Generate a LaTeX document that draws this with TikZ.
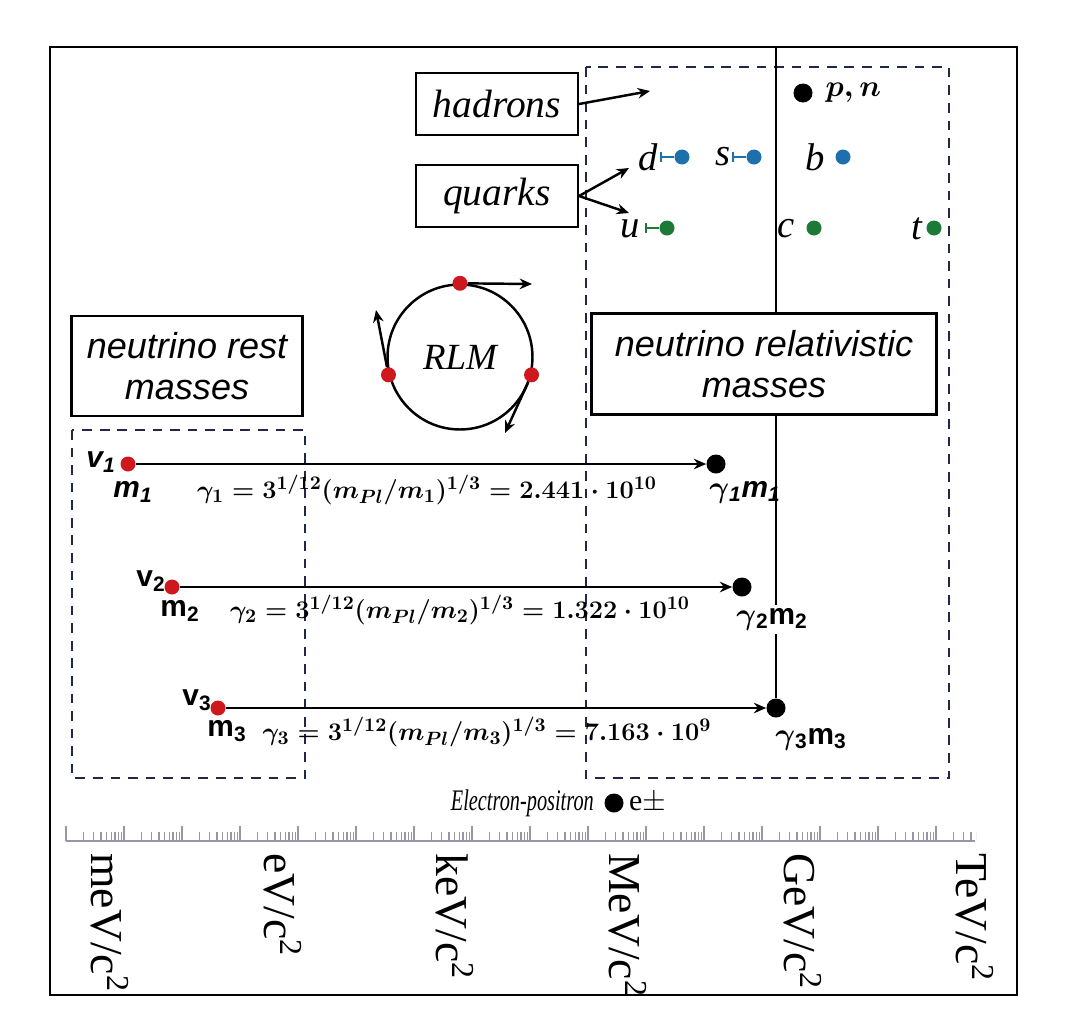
\documentclass[tikz,border=0pt]{standalone}
\usepackage{fontspec}
\setmainfont{Liberation Serif}
\setsansfont{Liberation Sans}
\usepackage{amsmath}
\usepackage{graphicx}
\usetikzlibrary{positioning,arrows.meta}

\definecolor{dotred}{RGB}{205,25,30}
\definecolor{qblue}{RGB}{30,112,172}
\definecolor{qgreen}{RGB}{28,122,55}
\definecolor{boxnavy}{RGB}{30,40,72}
\definecolor{rulegray}{RGB}{150,150,165}

\begin{document}
\begin{tikzpicture}[x=0.02cm,y=-0.02cm,
  lblbox/.style={draw,line width=1.2pt,fill=white,inner sep=0pt,align=center},
  dashbox/.style={draw=boxnavy,line width=1.1pt,dash pattern=on 5.5pt off 4.5pt},
  reddot/.style={circle,fill=dotred,inner sep=0pt,minimum size=0.3cm},
  blkdot/.style={circle,fill=black,inner sep=0pt,minimum size=0.38cm},
  qdot/.style={circle,fill=#1,inner sep=0pt,minimum size=0.3cm},
  qname/.style={font=\itshape\fontsize{22}{24}\selectfont,inner sep=0pt},
  qbar/.style={draw=#1,line width=1pt,-{Bar[width=6pt]}},
  flux/.style={-{Stealth[length=7pt,width=6pt]},line width=1.4pt},
  nulbl/.style={font=\sffamily\bfseries\boldmath\fontsize{17}{20}\selectfont,inner sep=0pt},
  formula/.style={font=\boldmath\fontsize{15.6}{18}\selectfont,inner sep=0pt},
  unitlbl/.style={rotate=-90,anchor=west,inner sep=0pt,font=\fontsize{26}{28}\selectfont}]

\useasboundingbox (0,0) rectangle (1068,1015);
\draw[line width=1.2pt] (50,47) rectangle (1017,995);

% regions
\draw[dashbox] (72,430) rectangle (305,778);
\draw[dashbox] (586,67) rectangle (949,778);

% neutrinos
\node[reddot] (nu1) at (128,464) {};
\node[reddot] (nu2) at (172,587) {};
\node[reddot] (nu3) at (218,708) {};
\node[blkdot] (g1) at (716,464) {};
\node[blkdot] (g2) at (742,587) {};
\node[blkdot] (g3) at (776,708) {};

% GeV line
\coordinate (gtop) at (776,47);
\draw[line width=1.3pt] (gtop) -- (g3);

\node[nulbl] (v1) at (101,462) {\itshape v\textsubscript{1}};
\node[nulbl] (m1) at (133,492) {\itshape m\textsubscript{1}};
\node[nulbl] (gm1) at (745,492) {\itshape $\gamma$\textsubscript{1}m\textsubscript{1}};
\node[nulbl] (v2) at (151,581) {v\textsubscript{2}};
\node[nulbl] (m2) at (180,611) {m\textsubscript{2}};
\node[nulbl,fill=white,inner sep=2pt] (gm2) at (772,619) {$\gamma$\textsubscript{2}m\textsubscript{2}};
\node[nulbl] (v3) at (197,700) {v\textsubscript{3}};
\node[nulbl] (m3) at (227,731) {m\textsubscript{3}};
\node[nulbl] (gm3) at (811,739) {$\gamma$\textsubscript{3}m\textsubscript{3}};

\node[formula] (f1) at (427,490) {$\gamma_1 = 3^{1/12}(m_{Pl}/m_1)^{1/3} = 2.441\cdot 10^{10}$};
\node[formula] (f2) at (460,610) {$\gamma_2 = 3^{1/12}(m_{Pl}/m_2)^{1/3} = 1.322\cdot 10^{10}$};
\node[formula] (f3) at (487,732) {$\gamma_3 = 3^{1/12}(m_{Pl}/m_3)^{1/3} = 7.163\cdot 10^{9}$};

\draw[flux] (nu1) -- (g1);
\draw[flux] (nu2) -- (g2);
\draw[flux] (nu3) -- (g3);

% boxes
\node[lblbox,minimum width=4.62cm,minimum height=2cm,
  font=\sffamily\itshape\fontsize{20.5}{23.5}\selectfont] (rest) at (187,366) {neutrino rest\\masses};
\node[lblbox,minimum width=6.9cm,minimum height=2.02cm,
  font=\sffamily\itshape\fontsize{20.5}{23.5}\selectfont] (rel) at (764,364) {neutrino relativistic\\masses};
\node[lblbox,minimum width=3.24cm,minimum height=1.24cm,
  font=\itshape\fontsize{22.5}{24}\selectfont] (had) at (497,104) {hadrons};
\node[lblbox,minimum width=3.24cm,minimum height=1.24cm,
  font=\itshape\fontsize{22.5}{24}\selectfont] (qrk) at (497,196) {quarks};

\coordinate (hadtip) at (650,91);
\coordinate (dtip) at (629,168);
\coordinate (utip) at (629,213);
\draw[flux] (had.east) -- (hadtip);
\draw[flux] (qrk.east) -- (dtip);
\draw[flux] (qrk.east) -- (utip);

% quarks
\node[qdot=qblue] (dq) at (682,157) {};
\node[qdot=qblue] (sq) at (754,157) {};
\node[qdot=qblue] (bq) at (843,157) {};
\node[qdot=qgreen] (uq) at (667,228) {};
\node[qdot=qgreen] (cq) at (814,228) {};
\node[qdot=qgreen] (tq) at (934,228) {};
\node[qname] at (648,157) {d};
\node[qname] at (723,157) {s};
\node[qname] at (815,157) {b};
\node[qname] at (630,229) {u};
\node[qname] at (786,229) {c};
\node[qname] at (917,229) {t};
\draw[qbar=qblue] (dq.west) -- ++(-14,0);
\draw[qbar=qblue] (sq.west) -- ++(-14,0);
\draw[qbar=qgreen] (uq.west) -- ++(-14,0);

\node[blkdot] (pn) at (803,93) {};
\node[formula,font=\boldmath\fontsize{19}{21}\selectfont,right=0.25cm of pn] (pnl) {$p,n$};

% RLM
\node[draw,circle,line width=1.4pt,minimum size=2.9cm,font=\itshape\fontsize{21}{23}\selectfont] (rlm) at (460,357) {RLM};
\node[reddot] (r1) at (rlm.90) {};
\node[reddot] (r2) at (rlm.194) {};
\node[reddot] (r3) at (rlm.346) {};
\coordinate (r1tip) at (532,284);
\coordinate (r2tip) at (376,310);
\coordinate (r3tip) at (505,433);
\draw[flux] (r1) -- (r1tip);
\draw[flux] (r2) -- (r2tip);
\draw[flux] (r3) -- (r3tip);

% electron-positron
\node[blkdot] (ep) at (614,803) {};
\node[inner sep=0pt,font=\itshape\fontsize{17}{20}\selectfont,left=0.2cm of ep] (epl) {\scalebox{0.68}[1]{Electron-positron}};
\node[inner sep=0pt,font=\fontsize{17}{20}\selectfont,right=0.1cm of ep] (epr) {e$\pm$};

% mass scale
\begin{scope}
  \clip (60,815) rectangle (976,845);
  \draw[rulegray,line width=0.8pt] (66,841) -- (975,841);
  \foreach \k in {0,...,15} {
    \draw[rulegray,line width=0.9pt] (66+58*\k,826) -- (66+58*\k,841);
    \foreach \j in {2,...,9}
      \draw[rulegray,line width=0.7pt] ({66+58*\k+58*log10(\j)},832) -- ({66+58*\k+58*log10(\j)},841);
  }
\end{scope}
\foreach \u/\x in {meV/110,eV/283,keV/455,MeV/628,GeV/803,TeV/975}
  \node[unitlbl] (u-\u) at (\x,853) {\u/c\textsuperscript{2}};
\end{tikzpicture}
\end{document}
